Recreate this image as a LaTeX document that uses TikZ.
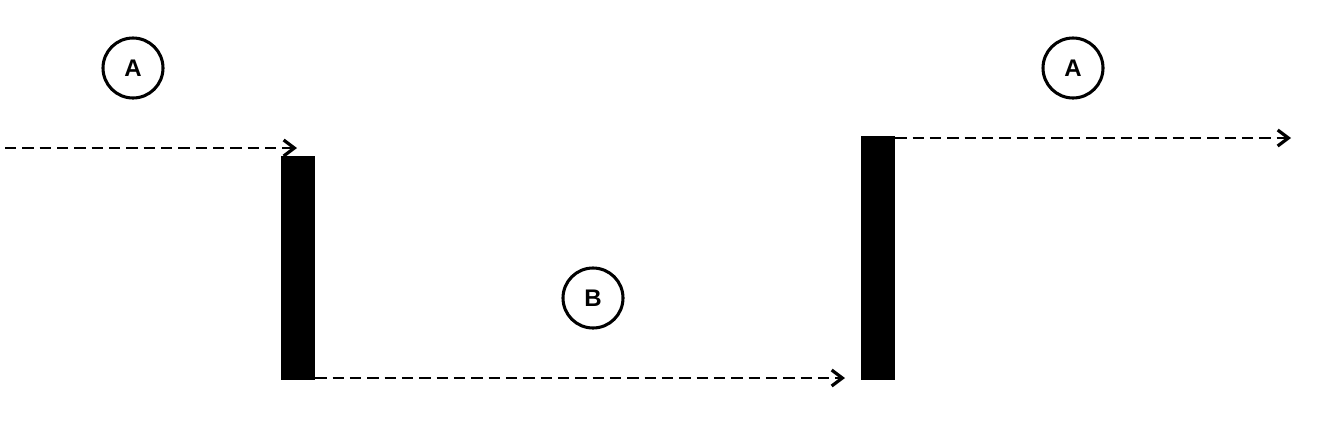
\documentclass[tikz,border=0pt]{standalone}
\usepackage{fontspec}
\setmainfont{Liberation Sans}
\usetikzlibrary{arrows.meta}
\begin{document}
\begin{tikzpicture}[x=0.75pt,y=-0.75pt,
  lbl/.style={circle,draw=black,line width=2.3pt,minimum size=45pt,inner sep=0pt,font=\fontsize{18}{20}\selectfont\bfseries},
  bar/.style={rectangle,fill=black,draw=none,inner sep=0pt,minimum width=25.5pt},
  flow/.style={line width=1.8pt,dash pattern=on 8.5pt off 4.5pt,-{Straight Barb[length=8pt,width=12pt,line width=2.4pt]}}]
\useasboundingbox (0,0) rectangle (1341,426);
\node[lbl] (a1) at (133,68) {A};
\node[lbl] (a2) at (1073,68) {A};
\node[lbl] (b) at (593,298) {B};
\node[bar,minimum height=168pt] (bar1) at (298,268) {};
\node[bar,minimum height=183pt] (bar2) at (878,258) {};
\coordinate (s1) at (5,148);
\coordinate (e1) at (297,148);
\coordinate (e2) at (845,378);
\coordinate (e3) at (1291,138);
\draw[flow] (s1) -- (e1);
\draw[flow] (bar1.east |- e2) -- (e2);
\draw[flow] (bar2.east |- e3) -- (e3);
\end{tikzpicture}
\end{document}
